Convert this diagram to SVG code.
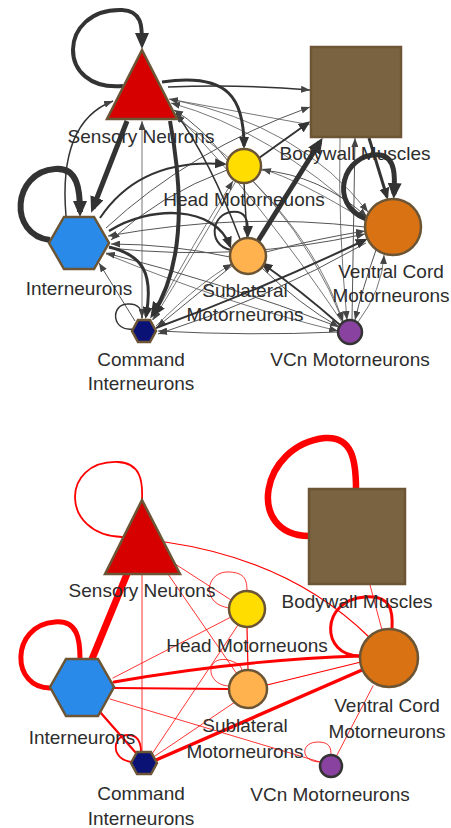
<svg xmlns="http://www.w3.org/2000/svg" width="451" height="828" viewBox="0 0 451 828">
<style>
  .e { fill: none; stroke: #333; stroke-linecap: butt; }
  .t { fill: none; stroke: #555; }
  .r { fill: none; stroke: #ff0000; stroke-linecap: round; }
  .lbl { font-family: "Liberation Sans", Arial, sans-serif; font-size: 19px; fill: #2d2d2d; text-anchor: middle; }
  .nd { stroke: #6b5535; stroke-width: 2.5; }
</style>
<defs>
  <marker id="ah-s" markerUnits="userSpaceOnUse" markerWidth="9" markerHeight="7" refX="9" refY="3.5" orient="auto"><path d="M0,0L9,3.5L0,7z" fill="#444"/></marker>
  <marker id="ah-m" markerUnits="userSpaceOnUse" markerWidth="12" markerHeight="10" refX="9" refY="5" orient="auto"><path d="M0,0L12,5L0,10z" fill="#333"/></marker>
  <marker id="ah-l" markerUnits="userSpaceOnUse" markerWidth="16" markerHeight="14" refX="11" refY="7" orient="auto"><path d="M0,0L16,7L0,14z" fill="#333"/></marker>
</defs>
<rect width="451" height="828" fill="#ffffff"/>

<!-- directed network (upper panel) -->
<g id="edges-directed">
  <!-- thin connections -->
  <g class="t" stroke-width="0.8" marker-end="url(#ah-s)">
    <path d="M142,320 L142,121"/>
    <path d="M174,100 Q300,125 368,212"/>
    <path d="M170,114 Q290,190 343,321"/>
    <path d="M253,181 Q320,250 343,322"/>
    <path d="M106,254 Q230,305 338,331"/>
    <path d="M340,138 Q338,230 347,320"/>
    <path d="M358,322 Q382,290 384,255"/>
    <path d="M366,221 Q300,180 262,169"/>
    <path d="M156,326 Q200,282 232,264"/>
    <path d="M152,320 Q195,240 233,181"/>
    <path d="M236,181 Q190,260 153,320"/>
    <path d="M366,219 Q270,130 171,103"/>
    <path d="M342,322 Q260,200 176,114"/>
    <path d="M311,125 Q240,112 169,99"/>
  </g>
  <g class="t" stroke-width="1" marker-end="url(#ah-s)">
    <path d="M352,320 L355,138"/>
    <path d="M106,228 Q190,150 310,107"/>
    <path d="M135,321 L99,263"/>
    <path d="M338,332 Q250,336 158,331"/>
    <path d="M366,243 Q265,300 158,334"/>
    <path d="M233,265 Q190,300 157,327"/>
    <path d="M228,161 Q200,125 174,110"/>
    <path d="M261,170 Q320,175 367,217"/>
    <path d="M227,170 Q160,195 111,240"/>
    <path d="M230,257 Q170,244 111,244"/>
    <path d="M365,227 Q240,212 108,236"/>
    <path d="M109,248 Q240,262 365,234"/>
    <path d="M339,327 Q220,282 106,253"/>
    <path d="M266,252 Q320,238 365,231"/>
    <path d="M262,268 Q300,305 339,327"/>
    <path d="M376,250 Q362,290 355,320"/>
  </g>
  <g class="e" stroke-width="1.5" marker-end="url(#ah-s)">
    <path d="M66,216 Q58,122 113,101"/>
    <path d="M240,239 Q210,160 176,113"/>
    <path d="M244,183 L247,237"/>
    <path d="M133,329 C112,332 110,305 127,304 C139,303 142,310 142,318"/>
    <path d="M168,87 Q240,84 310,90"/>
  </g>
  <!-- medium connections -->
  <g class="e" marker-end="url(#ah-m)">
    <path stroke-width="2" d="M340,325 Q300,290 263,264"/>
    <path stroke-width="2" d="M259,158 L308,123"/>
    <path stroke-width="2" d="M100,218 Q140,158 224,164"/>
    <path stroke-width="2.5" d="M109,231 C150,205 215,205 230,246"/>
    <path stroke-width="2" d="M156,328 Q260,290 365,240"/>
    <path stroke-width="2" d="M231,250 C205,245 212,208 238,212 C248,214 248,226 248,235"/>
    <path stroke-width="3" d="M109,247 C142,255 154,272 146,316"/>
    <path stroke-width="3" d="M162,82 C230,72 244,100 244,146"/>
    <path stroke-width="3" d="M369,138 L387,197"/>
  </g>
  <!-- heavy connections -->
  <g class="e" marker-end="url(#ah-l)">
    <path stroke-width="4" d="M123,86 C55,92 58,8 122,10 C143,11 142,28 142,44"/>
    <path stroke-width="6" d="M50,240 C8,235 12,172 55,169 C78,167 80,190 80,212"/>
    <path stroke-width="5" d="M366,219 C328,205 342,152 380,155 C396,157 395,178 394,194"/>
    <path stroke-width="5" d="M127,121 L93,208"/>
    <path stroke-width="4" d="M170,121 Q194,250 153,314"/>
    <path stroke-width="5" d="M258,241 L320,142"/>
  </g>
</g>

<g id="top-sensory">
  <polygon class="nd" points="142,50 107,119 177,119" fill="#d60000"/>
  <text class="lbl" x="141" y="143">Sensory Neurons</text>
</g>
<g id="top-bodywall">
  <rect class="nd" x="311" y="47" width="90" height="90" fill="#7a6340"/>
  <text class="lbl" x="355" y="160">Bodywall Muscles</text>
</g>
<g id="top-head">
  <circle class="nd" cx="244" cy="166" r="17" fill="#ffdd00"/>
  <text class="lbl" x="244" y="206">Head Motorneuons</text>
</g>
<g id="top-inter">
  <polygon class="nd" points="49,243 64,217 94,217 109,243 94,269 64,269" fill="#2a8aea"/>
  <text class="lbl" x="79" y="295">Interneurons</text>
</g>
<g id="top-sublateral">
  <circle class="nd" cx="248" cy="256" r="18" fill="#ffb24d"/>
  <text class="lbl" x="245" y="297">Sublateral</text>
  <text class="lbl" x="245" y="321">Motorneurons</text>
</g>
<g id="top-ventral">
  <circle class="nd" cx="393" cy="227" r="28" fill="#d97212"/>
  <text class="lbl" x="391" y="278">Ventral Cord</text>
  <text class="lbl" x="391" y="302">Motorneurons</text>
</g>
<g id="top-command">
  <polygon class="nd" points="132,331 138,320 150,320 156,331 150,342 138,342" fill="#0a1275"/>
  <text class="lbl" x="141" y="366">Command</text>
  <text class="lbl" x="141" y="390">Interneurons</text>
</g>
<g id="top-vcn">
  <circle cx="350" cy="332" r="12" fill="#8a42a0" stroke="#333" stroke-width="2.5"/>
  <text class="lbl" x="350" y="366">VCn Motorneurons</text>
</g>

<!-- undirected network (lower panel) -->
<g id="edges-undirected">
  <g class="r" stroke-width="0.8">
    <path d="M172,562 L231,600"/>
    <path d="M142,575 L142,751"/>
    <path d="M168,574 L237,674"/>
    <path d="M231,617 L113,678"/>
    <path d="M238,625 L152,754"/>
    <path d="M110,699 L320,762"/>
    <path d="M155,756 L235,702"/>
    <path d="M373,686 L337,755"/>
    <path d="M370,585 L382,630"/>
    <path d="M229,686 C205,685 205,655 228,660 C240,663 242,668 242,671"/>
    <path d="M230,608 C200,605 205,570 230,572 C245,573 247,580 247,591"/>
    <path d="M320,762 C300,762 300,742 318,742 C330,742 331,748 331,755"/>
  </g>
  <g class="r" stroke-width="1.2">
    <path d="M165,542 Q290,560 369,637"/>
    <path d="M247,627 L248,670"/>
    <path d="M267,685 L361,662"/>
  </g>
  <g class="r" stroke-width="1.8">
    <path d="M122,537 C60,535 60,460 118,462 C140,463 143,480 142,500"/>
    <path d="M114,688 L229,689"/>
    <path d="M132,762 C110,760 112,735 128,735 C138,735 141,742 141,752"/>
  </g>
  <g class="r">
    <path stroke-width="2.2" d="M100,712 L136,753"/>
    <path stroke-width="2.8" d="M114,682 Q240,660 360,656"/>
    <path stroke-width="3.5" d="M156,760 L362,670"/>
    <path stroke-width="3" d="M360,656 C320,656 320,600 365,597 C392,595 393,612 392,629"/>
    <path stroke-width="5" d="M52,688 C10,690 10,625 55,622 C78,620 80,640 80,659"/>
    <path stroke-width="7" d="M127,574 L92,659"/>
    <path stroke-width="6.5" d="M309,536 C245,535 260,445 325,438 C352,436 356,460 356,489"/>
  </g>
</g>

<g id="bottom-sensory">
  <polygon class="nd" points="142,500 105,574 180,574" fill="#d60000"/>
  <text class="lbl" x="142" y="597">Sensory Neurons</text>
</g>
<g id="bottom-bodywall">
  <rect class="nd" x="309" y="489" width="96" height="95" fill="#7a6340"/>
  <text class="lbl" x="357" y="608">Bodywall Muscles</text>
</g>
<g id="bottom-head">
  <circle class="nd" cx="247" cy="609" r="18" fill="#ffdd00"/>
  <text class="lbl" x="247" y="652">Head Motorneuons</text>
</g>
<g id="bottom-inter">
  <polygon class="nd" points="50,687 66,659 98,659 114,687 98,716 66,716" fill="#2a8aea"/>
  <text class="lbl" x="82" y="744">Interneurons</text>
</g>
<g id="bottom-sublateral">
  <circle class="nd" cx="248" cy="689" r="19" fill="#ffb24d"/>
  <text class="lbl" x="245" y="732">Sublateral</text>
  <text class="lbl" x="245" y="758">Motorneurons</text>
</g>
<g id="bottom-ventral">
  <circle class="nd" cx="389" cy="658" r="29" fill="#d97212"/>
  <text class="lbl" x="387" y="712">Ventral Cord</text>
  <text class="lbl" x="387" y="738">Motorneurons</text>
</g>
<g id="bottom-command">
  <polygon class="nd" points="131,763 137,752 151,752 157,763 151,774 137,774" fill="#0a1275"/>
  <text class="lbl" x="141" y="800">Command</text>
  <text class="lbl" x="141" y="825">Interneurons</text>
</g>
<g id="bottom-vcn">
  <circle cx="331" cy="766" r="11" fill="#8a42a0" stroke="#333" stroke-width="2.5"/>
  <text class="lbl" x="330" y="801">VCn Motorneurons</text>
</g>
</svg>
